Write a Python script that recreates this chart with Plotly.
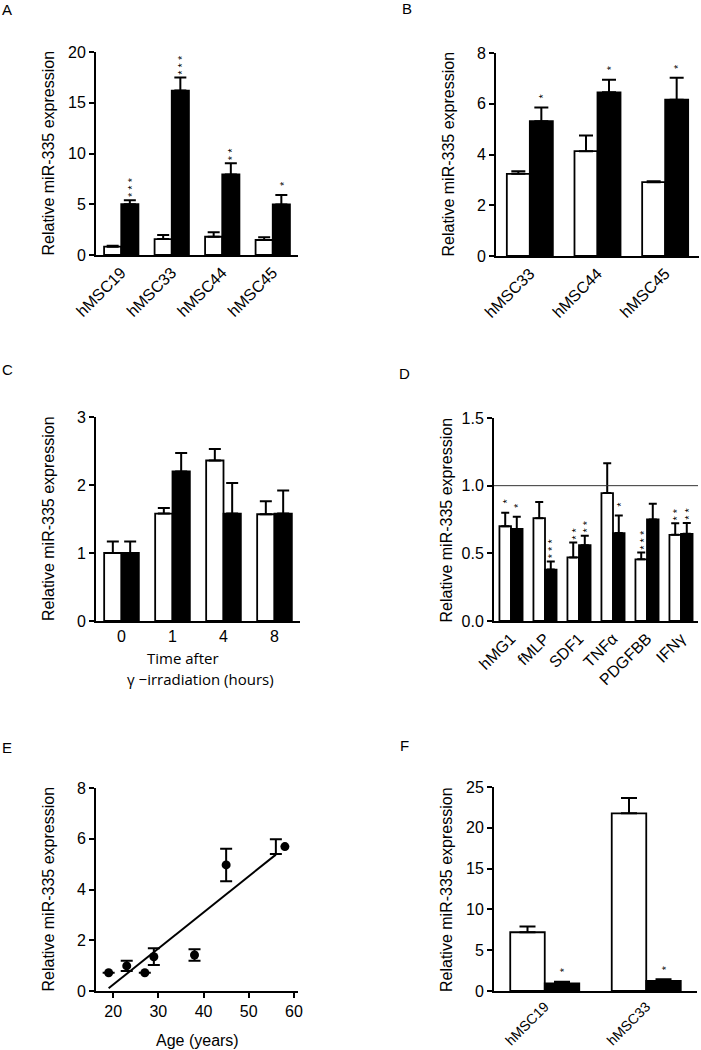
import numpy as np
import plotly.graph_objects as go

W, H = 701, 1050
FONT = "Liberation Sans, Arial, Helvetica, sans-serif"

# ---------------- data ----------------
# Panel A
a_cats = ["hMSC19", "hMSC33", "hMSC44", "hMSC45"]
a_white = [0.82, 1.57, 1.80, 1.48]
a_white_err = [0.10, 0.40, 0.43, 0.26]
a_black = [5.00, 16.20, 7.93, 4.98]
a_black_err = [0.40, 1.30, 1.10, 0.92]
a_white_stars = ["", "", "", ""]
a_black_stars = ["***", "***", "**", "*"]

# Panel B
b_cats = ["hMSC33", "hMSC44", "hMSC45"]
b_white = [3.24, 4.13, 2.91]
b_white_err = [0.10, 0.62, 0.04]
b_black = [5.31, 6.45, 6.16]
b_black_err = [0.54, 0.50, 0.86]
b_white_stars = ["", "", ""]
b_black_stars = ["*", "*", "*"]

# Panel C
c_cats = ["0", "1", "4", "8"]
c_white = [1.00, 1.58, 2.36, 1.57]
c_white_err = [0.17, 0.08, 0.17, 0.19]
c_black = [1.00, 2.20, 1.58, 1.58]
c_black_err = [0.17, 0.27, 0.45, 0.34]
c_white_stars = ["", "", "", ""]
c_black_stars = ["", "", "", ""]

# Panel D
d_cats = ["hMG1", "fMLP", "SDF1", "TNFα", "PDGFBB", "IFNγ"]
d_white = [0.70, 0.76, 0.47, 0.945, 0.456, 0.637]
d_white_err = [0.10, 0.12, 0.11, 0.22, 0.05, 0.085]
d_black = [0.68, 0.38, 0.56, 0.65, 0.75, 0.644]
d_black_err = [0.09, 0.06, 0.07, 0.13, 0.116, 0.08]
d_white_stars = ["*", "", "**", "", "***", "**"]
d_black_stars = ["*", "***", "**", "*", "", "**"]
d_reference = 1.0

# Panel E
e_age = [19, 23, 27, 29, 38, 45, 58]
e_val = [0.72, 0.99, 0.72, 1.35, 1.42, 4.97, 5.69]
e_err = [0, 0.20, 0, 0.33, 0.23, 0.64, 0.29]
e_err_age = [19, 23, 27, 29, 38, 45, 56]

# Panel F
f_cats = ["hMSC19", "hMSC33"]
f_white = [7.20, 21.77]
f_white_err = [0.70, 1.88]
f_black = [0.94, 1.23]
f_black_err = [0.20, 0.20]
f_white_stars = ["", ""]
f_black_stars = ["*", "*"]

YTITLE = "Relative miR-335 expression"

# ---------------- layout geometry (pixels) ----------------
def dom_x(x0, x1):
    return [x0 / W, x1 / W]

def dom_y(top, bottom):
    return [1 - bottom / H, 1 - top / H]

BARGAP = 0.32

panels = [
    dict(n=1, cats=a_cats, w=a_white, we=a_white_err, b=a_black, be=a_black_err,
         ws=a_white_stars, bs=a_black_stars, yr=[0, 20], dt=5, fmt="",
         px=(96, 298), py=(52, 255), cap=6, angle=-45, tf=16),
    dict(n=2, cats=b_cats, w=b_white, we=b_white_err, b=b_black, be=b_black_err,
         ws=b_white_stars, bs=b_black_stars, yr=[0, 8], dt=2, fmt="",
         px=(496, 699), py=(53, 256), cap=7, angle=-45, tf=16),
    dict(n=3, cats=c_cats, w=c_white, we=c_white_err, b=c_black, be=c_black_err,
         ws=c_white_stars, bs=c_black_stars, yr=[0, 3], dt=1, fmt="",
         px=(96, 300), py=(417, 621), cap=6, angle=0, tf=16),
    dict(n=4, cats=d_cats, w=d_white, we=d_white_err, b=d_black, be=d_black_err,
         ws=d_white_stars, bs=d_black_stars, yr=[0, 1.5], dt=0.5, fmt=".1f",
         px=(494, 698), py=(418, 621), cap=4, angle=-45, tf=16),
    dict(n=6, cats=f_cats, w=f_white, we=f_white_err, b=f_black, be=f_black_err,
         ws=f_white_stars, bs=f_black_stars, yr=[0, 25], dt=5, fmt="",
         px=(494, 697), py=(787, 991), cap=8, angle=-45, tf=14),
]

fig = go.Figure()
annotations = []
shapes = []
layout = {}

axis_common = dict(showline=True, linecolor="black", linewidth=2, showgrid=False,
                   zeroline=False, automargin=False,
                   tickfont=dict(family=FONT, size=16, color="black"),
                   ticks="outside", ticklen=5, tickwidth=2, tickcolor="black")

def star_ann(text, x, y, xref, yref, xshift):
    if not text:
        return None
    spaced = " ".join(list(text))
    yshift = 7 if len(text) == 1 else 1
    return dict(text=spaced, x=x, y=y, xref=xref, yref=yref, xshift=xshift + 2,
                yshift=yshift, textangle=-90, showarrow=False, xanchor="center",
                yanchor="bottom", font=dict(family=FONT, size=11, color="black"))

for p in panels:
    n = p["n"]
    xa = "x" if n == 1 else f"x{n}"
    ya = "y" if n == 1 else f"y{n}"
    xkey = "xaxis" if n == 1 else f"xaxis{n}"
    ykey = "yaxis" if n == 1 else f"yaxis{n}"
    for vals, errs, fill in ((p["w"], p["we"], "white"), (p["b"], p["be"], "black")):
        fig.add_trace(go.Bar(
            x=p["cats"], y=vals, xaxis=xa, yaxis=ya, showlegend=False,
            marker=dict(color=fill, line=dict(color="black", width=1.8)),
            error_y=dict(type="data", array=errs, arrayminus=[0] * len(errs),
                         symmetric=False, color="black", thickness=2, width=p["cap"]),
        ))
    layout[xkey] = dict(axis_common, domain=dom_x(*p["px"]), anchor=ya,
                        type="category", ticks="", tickangle=p["angle"],
                        tickfont=dict(family=FONT, size=p["tf"], color="black"))
    layout[ykey] = dict(axis_common, domain=dom_y(*p["py"]), anchor=xa,
                        range=p["yr"], dtick=p["dt"], tick0=0, tickformat=p["fmt"])
    catw = (p["px"][1] - p["px"][0]) / len(p["cats"])
    off = catw * (1 - BARGAP) / 4
    for i, c in enumerate(p["cats"]):
        for s, v, e, sh in ((p["ws"][i], p["w"][i], p["we"][i], -off),
                            (p["bs"][i], p["b"][i], p["be"][i], off)):
            a = star_ann(s, c, v + e, xa, ya, sh)
            if a:
                annotations.append(a)

# Panel E scatter
fig.add_trace(go.Scatter(
    x=e_err_age, y=e_val, mode="markers", xaxis="x5", yaxis="y5", showlegend=False,
    marker=dict(size=8, color="black", opacity=0),
    error_y=dict(type="data", array=e_err, color="black", thickness=2, width=6),
))
fig.add_trace(go.Scatter(
    x=e_age, y=e_val, mode="markers", xaxis="x5", yaxis="y5", showlegend=False,
    marker=dict(size=9, color="black"),
))
slope, intercept = np.polyfit(e_age, e_val, 1)
fit_x = np.array([min(e_age), max(e_err_age)])
fig.add_trace(go.Scatter(
    x=fit_x, y=slope * fit_x + intercept, mode="lines", xaxis="x5", yaxis="y5",
    showlegend=False, line=dict(color="black", width=2),
))
layout["xaxis5"] = dict(axis_common, domain=dom_x(96, 298), anchor="y5",
                        range=[16.2, 60.9], dtick=10, tick0=0)
layout["yaxis5"] = dict(axis_common, domain=dom_y(788, 991), anchor="x5",
                        range=[0, 8], dtick=2, tick0=0)

# reference line in D
shapes.append(dict(type="line", xref="x4 domain", x0=0, x1=1, yref="y4",
                   y0=d_reference, y1=d_reference, line=dict(color="#333333", width=1)))

# y titles and panel letters
for n, letter, lpos in ((1, "A", (7, 10)), (2, "B", (407, 8)), (3, "C", (7, 369)),
                        (4, "D", (405, 373)), (5, "E", (7, 747)), (6, "F", (405, 745))):
    xa = "x" if n == 1 else f"x{n}"
    ya = "y" if n == 1 else f"y{n}"
    annotations.append(dict(text=YTITLE, xref=f"{xa} domain", yref=f"{ya} domain",
                            x=0, y=0.5, xshift=-48, textangle=-90, showarrow=False,
                            xanchor="center", yanchor="middle",
                            font=dict(family=FONT, size=16, color="black")))
    annotations.append(dict(text=letter, xref="paper", yref="paper",
                            x=lpos[0] / W, y=1 - lpos[1] / H, showarrow=False,
                            xanchor="center", yanchor="middle",
                            font=dict(family=FONT, size=15, color="black")))

# x titles
annotations.append(dict(text="Time after", xref="paper", yref="paper",
                        x=183 / W, y=1 - 658 / H, showarrow=False,
                        xanchor="center", yanchor="middle",
                        font=dict(family="Open Sans, sans-serif", size=15, color="black")))
annotations.append(dict(text="γ −irradiation (hours)", xref="paper", yref="paper",
                        x=200 / W, y=1 - 679 / H, showarrow=False,
                        xanchor="center", yanchor="middle",
                        font=dict(family="Open Sans, sans-serif", size=15, color="black")))
annotations.append(dict(text="Age (years)", xref="paper", yref="paper",
                        x=197 / W, y=1 - 1040 / H, showarrow=False,
                        xanchor="center", yanchor="middle",
                        font=dict(family=FONT, size=16, color="black")))

fig.update_layout(
    template="none",
    width=W, height=H, margin=dict(l=0, r=0, t=0, b=0, pad=0),
    paper_bgcolor="white", plot_bgcolor="white",
    barmode="group", bargap=BARGAP, bargroupgap=0,
    annotations=annotations, shapes=shapes,
    font=dict(family=FONT, color="black"),
    **layout,
)

fig.write_html(
    "out.html",
    config={"displayModeBar": False},
    post_script="document.body.style.margin='0px';document.body.style.overflow='hidden';",
)
